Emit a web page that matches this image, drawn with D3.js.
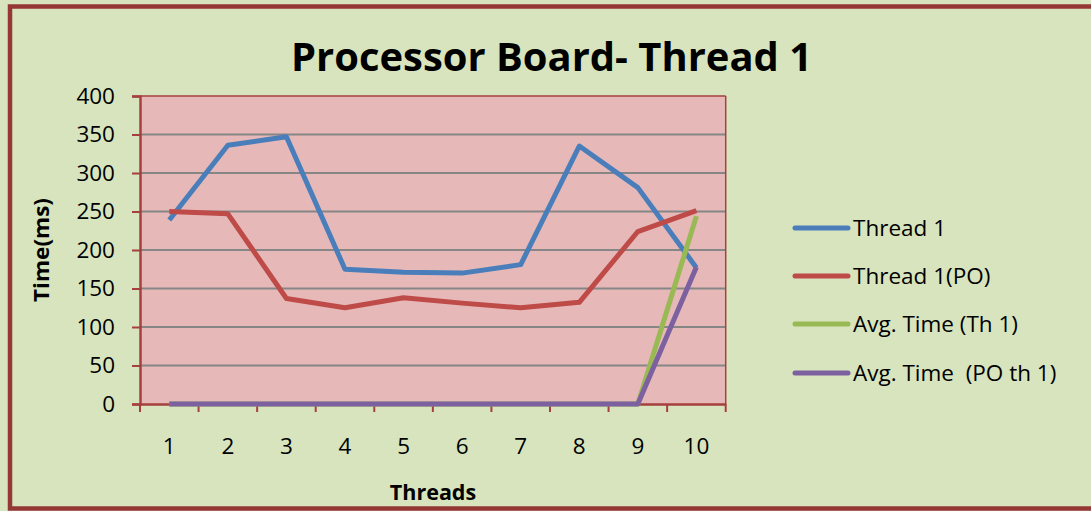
<!DOCTYPE html>
<html>
<head>
<meta charset="utf-8">
<script src="https://cdn.jsdelivr.net/npm/d3@7/dist/d3.min.js"></script>
<style>
html,body{margin:0;padding:0;background:#d7e4bd;}
svg{display:block;}
text{white-space:pre;}
</style>
</head>
<body>
<script>
const categories = ["1","2","3","4","5","6","7","8","9","10"];
const thread1 = [239, 336, 347, 175, 171, 170, 181, 335, 281, 177];
const thread1PO = [250, 247, 137, 125, 138, 131, 125, 132, 224, 251];
const avgTh1 = [0, 0, 0, 0, 0, 0, 0, 0, 0, 244];
const avgPOth1 = [0, 0, 0, 0, 0, 0, 0, 0, 0, 178];
const yTicks = [0, 50, 100, 150, 200, 250, 300, 350, 400];
const seriesNames = ["Thread 1", "Thread 1(PO)", "Avg. Time (Th 1)", "Avg. Time  (PO th 1)"];
const seriesColors = ["#4a7ebb", "#be4b48", "#98b954", "#7d60a0"];
const titleText = "Processor Board- Thread 1";
const xTitle = "Threads";
const yTitle = "Time(ms)";

const series = [thread1, thread1PO, avgTh1, avgPOth1];

const W = 1091, H = 511;
const font = "'Open Sans', 'Liberation Sans', sans-serif";
const svg = d3.select("body").append("svg").attr("width", W).attr("height", H);

svg.append("rect").attr("x",0).attr("y",0).attr("width",W).attr("height",H).attr("fill","#d7e4bd");
// outer border
svg.append("rect").attr("x",10).attr("y",6.5).attr("width",W+20).attr("height",502)
  .attr("fill","#d7e4bd").attr("stroke","#953735").attr("stroke-width",4.5);

const L = 140, T = 96, R = 725.7, B = 404;
const x = d3.scaleBand().domain(categories).range([L, R]).padding(0);
const y = d3.scaleLinear().domain([0, 400]).range([B, T]);

svg.append("rect").attr("x",L).attr("y",T).attr("width",R-L).attr("height",B-T).attr("fill","#e6b9b8");

// gridlines
svg.append("g").selectAll("line").data(yTicks.filter(t => t>0 && t<400)).join("line")
  .attr("x1",L).attr("x2",R).attr("y1",d=>y(d)).attr("y2",d=>y(d))
  .attr("stroke","#868686").attr("stroke-width",2);

// plot border top/right
svg.append("line").attr("x1",L).attr("x2",R).attr("y1",T).attr("y2",T).attr("stroke","#a5403e").attr("stroke-width",1.5);
svg.append("line").attr("x1",R).attr("x2",R).attr("y1",T).attr("y2",B).attr("stroke","#a5403e").attr("stroke-width",1.5);

// y axis
const yAxis = d3.axisLeft(y).tickValues(yTicks).tickSize(8).tickPadding(17);
const gy = svg.append("g").attr("transform",`translate(${L},0)`).call(yAxis);
gy.select(".domain").attr("stroke","#a5403e").attr("stroke-width",2.5);
gy.selectAll(".tick line").attr("stroke","#a5403e").attr("stroke-width",2);
gy.selectAll(".tick text").attr("font-family",font).attr("font-size",22.5).attr("fill","#000");

// x axis
const xAxis = d3.axisBottom(x).tickSize(0).tickPadding(34);
const gx = svg.append("g").attr("transform",`translate(0,${B})`).call(xAxis);
gx.select(".domain").attr("stroke","#a5403e").attr("stroke-width",2.5);
gx.selectAll(".tick text").attr("font-family",font).attr("font-size",22.5).attr("fill","#000");
// boundary ticks
const bounds = categories.map(c => x(c)).concat([R]);
gx.append("g").selectAll("line").data(bounds).join("line")
  .attr("x1",d=>d).attr("x2",d=>d).attr("y1",0).attr("y2",8)
  .attr("stroke","#a5403e").attr("stroke-width",2);

// lines
const line = d3.line().x((d,i)=>x(categories[i]) + x.bandwidth()/2).y(d=>y(d));
series.forEach((s, k) => {
  svg.append("path").datum(s).attr("d", line).attr("fill","none")
    .attr("stroke", seriesColors[k]).attr("stroke-width",5).attr("stroke-linejoin","round");
});

// title
svg.append("text").attr("x",551.5).attr("y",71).attr("text-anchor","middle")
  .attr("font-family",font).attr("font-weight","bold").attr("font-size",40)
  .attr("textLength",521).attr("lengthAdjust","spacingAndGlyphs").text(titleText);

// axis titles
svg.append("text").attr("x",433).attr("y",500).attr("text-anchor","middle")
  .attr("font-family",font).attr("font-weight","bold").attr("font-size",21.5).text(xTitle);
svg.append("text").attr("transform","translate(49,250) rotate(-90)").attr("text-anchor","middle")
  .attr("font-family",font).attr("font-weight","bold").attr("font-size",21.5)
  .attr("textLength",104).attr("lengthAdjust","spacingAndGlyphs").text(yTitle);

// legend
const lg = svg.append("g");
const lys = [228, 276, 324, 373];
seriesNames.forEach((n, k) => {
  lg.append("line").attr("x1",795).attr("x2",848).attr("y1",lys[k]).attr("y2",lys[k])
    .attr("stroke",seriesColors[k]).attr("stroke-width",5).attr("stroke-linecap","round");
  lg.append("text").attr("x",853).attr("y",lys[k]+8).attr("font-family",font).attr("font-size",22.5)
    .attr("fill","#000").attr("xml:space","preserve").text(n);
});
</script>
</body>
</html>
